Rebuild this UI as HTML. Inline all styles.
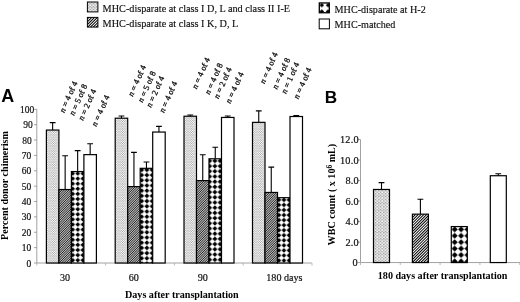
<!DOCTYPE html>
<html><head><meta charset="utf-8"><title>Figure</title>
<style>
html,body{margin:0;padding:0;background:#fff}
svg{display:block}
.t{font-family:"Liberation Serif",serif;font-size:10.1px;fill:#111;stroke:#111;stroke-width:0.2px}
.b{font-family:"Liberation Serif",serif;font-size:10.1px;font-weight:bold;fill:#000}
.tb{font-family:"Liberation Serif",serif;font-size:10.3px;letter-spacing:0.25px;fill:#111;stroke:#111;stroke-width:0.2px}
.tx{font-family:"Liberation Serif",serif;font-size:10.1px;fill:#111;stroke:#111;stroke-width:0.2px}
.l{font-family:"Liberation Serif",serif;font-size:10.22px;fill:#111;stroke:#111;stroke-width:0.15px}
.l2{font-family:"Liberation Serif",serif;font-size:10.15px;fill:#111;stroke:#111;stroke-width:0.15px}
.n{font-family:"Liberation Serif",serif;font-size:8.3px;word-spacing:0.2px;fill:#111;stroke:#111;stroke-width:0.3px}
.h{font-family:"Liberation Sans",sans-serif;font-size:17.2px;font-weight:bold;fill:#000}
</style></head><body>
<svg width="520" height="302" viewBox="0 0 520 302">
<defs>
<pattern id="p1" width="23.00" height="22.00" x="0" y="0" patternUnits="userSpaceOnUse"><rect width="23.00" height="22.00" fill="#f8f8f8"/><path d="M0.07 0.05h1.0v1.0h-1.0zM1.22 1.15h1.0v1.0h-1.0zM0.07 2.25h1.0v1.0h-1.0zM1.22 3.35h1.0v1.0h-1.0zM0.07 4.45h1.0v1.0h-1.0zM1.22 5.55h1.0v1.0h-1.0zM0.07 6.65h1.0v1.0h-1.0zM1.22 7.75h1.0v1.0h-1.0zM0.07 8.85h1.0v1.0h-1.0zM1.22 9.95h1.0v1.0h-1.0zM0.07 11.05h1.0v1.0h-1.0zM1.22 12.15h1.0v1.0h-1.0zM0.07 13.25h1.0v1.0h-1.0zM1.22 14.35h1.0v1.0h-1.0zM0.07 15.45h1.0v1.0h-1.0zM1.22 16.55h1.0v1.0h-1.0zM0.07 17.65h1.0v1.0h-1.0zM1.22 18.75h1.0v1.0h-1.0zM0.07 19.85h1.0v1.0h-1.0zM1.22 20.95h1.0v1.0h-1.0zM2.38 0.05h1.0v1.0h-1.0zM3.52 1.15h1.0v1.0h-1.0zM2.38 2.25h1.0v1.0h-1.0zM3.52 3.35h1.0v1.0h-1.0zM2.38 4.45h1.0v1.0h-1.0zM3.52 5.55h1.0v1.0h-1.0zM2.38 6.65h1.0v1.0h-1.0zM3.52 7.75h1.0v1.0h-1.0zM2.38 8.85h1.0v1.0h-1.0zM3.52 9.95h1.0v1.0h-1.0zM2.38 11.05h1.0v1.0h-1.0zM3.52 12.15h1.0v1.0h-1.0zM2.38 13.25h1.0v1.0h-1.0zM3.52 14.35h1.0v1.0h-1.0zM2.38 15.45h1.0v1.0h-1.0zM3.52 16.55h1.0v1.0h-1.0zM2.38 17.65h1.0v1.0h-1.0zM3.52 18.75h1.0v1.0h-1.0zM2.38 19.85h1.0v1.0h-1.0zM3.52 20.95h1.0v1.0h-1.0zM4.67 0.05h1.0v1.0h-1.0zM5.83 1.15h1.0v1.0h-1.0zM4.67 2.25h1.0v1.0h-1.0zM5.83 3.35h1.0v1.0h-1.0zM4.67 4.45h1.0v1.0h-1.0zM5.83 5.55h1.0v1.0h-1.0zM4.67 6.65h1.0v1.0h-1.0zM5.83 7.75h1.0v1.0h-1.0zM4.67 8.85h1.0v1.0h-1.0zM5.83 9.95h1.0v1.0h-1.0zM4.67 11.05h1.0v1.0h-1.0zM5.83 12.15h1.0v1.0h-1.0zM4.67 13.25h1.0v1.0h-1.0zM5.83 14.35h1.0v1.0h-1.0zM4.67 15.45h1.0v1.0h-1.0zM5.83 16.55h1.0v1.0h-1.0zM4.67 17.65h1.0v1.0h-1.0zM5.83 18.75h1.0v1.0h-1.0zM4.67 19.85h1.0v1.0h-1.0zM5.83 20.95h1.0v1.0h-1.0zM6.97 0.05h1.0v1.0h-1.0zM8.12 1.15h1.0v1.0h-1.0zM6.97 2.25h1.0v1.0h-1.0zM8.12 3.35h1.0v1.0h-1.0zM6.97 4.45h1.0v1.0h-1.0zM8.12 5.55h1.0v1.0h-1.0zM6.97 6.65h1.0v1.0h-1.0zM8.12 7.75h1.0v1.0h-1.0zM6.97 8.85h1.0v1.0h-1.0zM8.12 9.95h1.0v1.0h-1.0zM6.97 11.05h1.0v1.0h-1.0zM8.12 12.15h1.0v1.0h-1.0zM6.97 13.25h1.0v1.0h-1.0zM8.12 14.35h1.0v1.0h-1.0zM6.97 15.45h1.0v1.0h-1.0zM8.12 16.55h1.0v1.0h-1.0zM6.97 17.65h1.0v1.0h-1.0zM8.12 18.75h1.0v1.0h-1.0zM6.97 19.85h1.0v1.0h-1.0zM8.12 20.95h1.0v1.0h-1.0zM9.27 0.05h1.0v1.0h-1.0zM10.42 1.15h1.0v1.0h-1.0zM9.27 2.25h1.0v1.0h-1.0zM10.42 3.35h1.0v1.0h-1.0zM9.27 4.45h1.0v1.0h-1.0zM10.42 5.55h1.0v1.0h-1.0zM9.27 6.65h1.0v1.0h-1.0zM10.42 7.75h1.0v1.0h-1.0zM9.27 8.85h1.0v1.0h-1.0zM10.42 9.95h1.0v1.0h-1.0zM9.27 11.05h1.0v1.0h-1.0zM10.42 12.15h1.0v1.0h-1.0zM9.27 13.25h1.0v1.0h-1.0zM10.42 14.35h1.0v1.0h-1.0zM9.27 15.45h1.0v1.0h-1.0zM10.42 16.55h1.0v1.0h-1.0zM9.27 17.65h1.0v1.0h-1.0zM10.42 18.75h1.0v1.0h-1.0zM9.27 19.85h1.0v1.0h-1.0zM10.42 20.95h1.0v1.0h-1.0zM11.57 0.05h1.0v1.0h-1.0zM12.72 1.15h1.0v1.0h-1.0zM11.57 2.25h1.0v1.0h-1.0zM12.72 3.35h1.0v1.0h-1.0zM11.57 4.45h1.0v1.0h-1.0zM12.72 5.55h1.0v1.0h-1.0zM11.57 6.65h1.0v1.0h-1.0zM12.72 7.75h1.0v1.0h-1.0zM11.57 8.85h1.0v1.0h-1.0zM12.72 9.95h1.0v1.0h-1.0zM11.57 11.05h1.0v1.0h-1.0zM12.72 12.15h1.0v1.0h-1.0zM11.57 13.25h1.0v1.0h-1.0zM12.72 14.35h1.0v1.0h-1.0zM11.57 15.45h1.0v1.0h-1.0zM12.72 16.55h1.0v1.0h-1.0zM11.57 17.65h1.0v1.0h-1.0zM12.72 18.75h1.0v1.0h-1.0zM11.57 19.85h1.0v1.0h-1.0zM12.72 20.95h1.0v1.0h-1.0zM13.87 0.05h1.0v1.0h-1.0zM15.02 1.15h1.0v1.0h-1.0zM13.87 2.25h1.0v1.0h-1.0zM15.02 3.35h1.0v1.0h-1.0zM13.87 4.45h1.0v1.0h-1.0zM15.02 5.55h1.0v1.0h-1.0zM13.87 6.65h1.0v1.0h-1.0zM15.02 7.75h1.0v1.0h-1.0zM13.87 8.85h1.0v1.0h-1.0zM15.02 9.95h1.0v1.0h-1.0zM13.87 11.05h1.0v1.0h-1.0zM15.02 12.15h1.0v1.0h-1.0zM13.87 13.25h1.0v1.0h-1.0zM15.02 14.35h1.0v1.0h-1.0zM13.87 15.45h1.0v1.0h-1.0zM15.02 16.55h1.0v1.0h-1.0zM13.87 17.65h1.0v1.0h-1.0zM15.02 18.75h1.0v1.0h-1.0zM13.87 19.85h1.0v1.0h-1.0zM15.02 20.95h1.0v1.0h-1.0zM16.17 0.05h1.0v1.0h-1.0zM17.32 1.15h1.0v1.0h-1.0zM16.17 2.25h1.0v1.0h-1.0zM17.32 3.35h1.0v1.0h-1.0zM16.17 4.45h1.0v1.0h-1.0zM17.32 5.55h1.0v1.0h-1.0zM16.17 6.65h1.0v1.0h-1.0zM17.32 7.75h1.0v1.0h-1.0zM16.17 8.85h1.0v1.0h-1.0zM17.32 9.95h1.0v1.0h-1.0zM16.17 11.05h1.0v1.0h-1.0zM17.32 12.15h1.0v1.0h-1.0zM16.17 13.25h1.0v1.0h-1.0zM17.32 14.35h1.0v1.0h-1.0zM16.17 15.45h1.0v1.0h-1.0zM17.32 16.55h1.0v1.0h-1.0zM16.17 17.65h1.0v1.0h-1.0zM17.32 18.75h1.0v1.0h-1.0zM16.17 19.85h1.0v1.0h-1.0zM17.32 20.95h1.0v1.0h-1.0zM18.47 0.05h1.0v1.0h-1.0zM19.62 1.15h1.0v1.0h-1.0zM18.47 2.25h1.0v1.0h-1.0zM19.62 3.35h1.0v1.0h-1.0zM18.47 4.45h1.0v1.0h-1.0zM19.62 5.55h1.0v1.0h-1.0zM18.47 6.65h1.0v1.0h-1.0zM19.62 7.75h1.0v1.0h-1.0zM18.47 8.85h1.0v1.0h-1.0zM19.62 9.95h1.0v1.0h-1.0zM18.47 11.05h1.0v1.0h-1.0zM19.62 12.15h1.0v1.0h-1.0zM18.47 13.25h1.0v1.0h-1.0zM19.62 14.35h1.0v1.0h-1.0zM18.47 15.45h1.0v1.0h-1.0zM19.62 16.55h1.0v1.0h-1.0zM18.47 17.65h1.0v1.0h-1.0zM19.62 18.75h1.0v1.0h-1.0zM18.47 19.85h1.0v1.0h-1.0zM19.62 20.95h1.0v1.0h-1.0zM20.77 0.05h1.0v1.0h-1.0zM21.92 1.15h1.0v1.0h-1.0zM20.77 2.25h1.0v1.0h-1.0zM21.92 3.35h1.0v1.0h-1.0zM20.77 4.45h1.0v1.0h-1.0zM21.92 5.55h1.0v1.0h-1.0zM20.77 6.65h1.0v1.0h-1.0zM21.92 7.75h1.0v1.0h-1.0zM20.77 8.85h1.0v1.0h-1.0zM21.92 9.95h1.0v1.0h-1.0zM20.77 11.05h1.0v1.0h-1.0zM21.92 12.15h1.0v1.0h-1.0zM20.77 13.25h1.0v1.0h-1.0zM21.92 14.35h1.0v1.0h-1.0zM20.77 15.45h1.0v1.0h-1.0zM21.92 16.55h1.0v1.0h-1.0zM20.77 17.65h1.0v1.0h-1.0zM21.92 18.75h1.0v1.0h-1.0zM20.77 19.85h1.0v1.0h-1.0zM21.92 20.95h1.0v1.0h-1.0z" fill="#a4a4a4"/></pattern>
<pattern id="p1b" width="33.00" height="29.00" x="0.3" y="0.2" patternUnits="userSpaceOnUse"><rect width="33.00" height="29.00" fill="#ffffff"/><path d="M0.20 0.10h1.25v1.25h-1.25zM1.85 1.55h1.25v1.25h-1.25zM0.20 3.00h1.25v1.25h-1.25zM1.85 4.45h1.25v1.25h-1.25zM0.20 5.90h1.25v1.25h-1.25zM1.85 7.35h1.25v1.25h-1.25zM0.20 8.80h1.25v1.25h-1.25zM1.85 10.25h1.25v1.25h-1.25zM0.20 11.70h1.25v1.25h-1.25zM1.85 13.15h1.25v1.25h-1.25zM0.20 14.60h1.25v1.25h-1.25zM1.85 16.05h1.25v1.25h-1.25zM0.20 17.50h1.25v1.25h-1.25zM1.85 18.95h1.25v1.25h-1.25zM0.20 20.40h1.25v1.25h-1.25zM1.85 21.85h1.25v1.25h-1.25zM0.20 23.30h1.25v1.25h-1.25zM1.85 24.75h1.25v1.25h-1.25zM0.20 26.20h1.25v1.25h-1.25zM1.85 27.65h1.25v1.25h-1.25zM3.50 0.10h1.25v1.25h-1.25zM5.15 1.55h1.25v1.25h-1.25zM3.50 3.00h1.25v1.25h-1.25zM5.15 4.45h1.25v1.25h-1.25zM3.50 5.90h1.25v1.25h-1.25zM5.15 7.35h1.25v1.25h-1.25zM3.50 8.80h1.25v1.25h-1.25zM5.15 10.25h1.25v1.25h-1.25zM3.50 11.70h1.25v1.25h-1.25zM5.15 13.15h1.25v1.25h-1.25zM3.50 14.60h1.25v1.25h-1.25zM5.15 16.05h1.25v1.25h-1.25zM3.50 17.50h1.25v1.25h-1.25zM5.15 18.95h1.25v1.25h-1.25zM3.50 20.40h1.25v1.25h-1.25zM5.15 21.85h1.25v1.25h-1.25zM3.50 23.30h1.25v1.25h-1.25zM5.15 24.75h1.25v1.25h-1.25zM3.50 26.20h1.25v1.25h-1.25zM5.15 27.65h1.25v1.25h-1.25zM6.80 0.10h1.25v1.25h-1.25zM8.45 1.55h1.25v1.25h-1.25zM6.80 3.00h1.25v1.25h-1.25zM8.45 4.45h1.25v1.25h-1.25zM6.80 5.90h1.25v1.25h-1.25zM8.45 7.35h1.25v1.25h-1.25zM6.80 8.80h1.25v1.25h-1.25zM8.45 10.25h1.25v1.25h-1.25zM6.80 11.70h1.25v1.25h-1.25zM8.45 13.15h1.25v1.25h-1.25zM6.80 14.60h1.25v1.25h-1.25zM8.45 16.05h1.25v1.25h-1.25zM6.80 17.50h1.25v1.25h-1.25zM8.45 18.95h1.25v1.25h-1.25zM6.80 20.40h1.25v1.25h-1.25zM8.45 21.85h1.25v1.25h-1.25zM6.80 23.30h1.25v1.25h-1.25zM8.45 24.75h1.25v1.25h-1.25zM6.80 26.20h1.25v1.25h-1.25zM8.45 27.65h1.25v1.25h-1.25zM10.10 0.10h1.25v1.25h-1.25zM11.75 1.55h1.25v1.25h-1.25zM10.10 3.00h1.25v1.25h-1.25zM11.75 4.45h1.25v1.25h-1.25zM10.10 5.90h1.25v1.25h-1.25zM11.75 7.35h1.25v1.25h-1.25zM10.10 8.80h1.25v1.25h-1.25zM11.75 10.25h1.25v1.25h-1.25zM10.10 11.70h1.25v1.25h-1.25zM11.75 13.15h1.25v1.25h-1.25zM10.10 14.60h1.25v1.25h-1.25zM11.75 16.05h1.25v1.25h-1.25zM10.10 17.50h1.25v1.25h-1.25zM11.75 18.95h1.25v1.25h-1.25zM10.10 20.40h1.25v1.25h-1.25zM11.75 21.85h1.25v1.25h-1.25zM10.10 23.30h1.25v1.25h-1.25zM11.75 24.75h1.25v1.25h-1.25zM10.10 26.20h1.25v1.25h-1.25zM11.75 27.65h1.25v1.25h-1.25zM13.40 0.10h1.25v1.25h-1.25zM15.05 1.55h1.25v1.25h-1.25zM13.40 3.00h1.25v1.25h-1.25zM15.05 4.45h1.25v1.25h-1.25zM13.40 5.90h1.25v1.25h-1.25zM15.05 7.35h1.25v1.25h-1.25zM13.40 8.80h1.25v1.25h-1.25zM15.05 10.25h1.25v1.25h-1.25zM13.40 11.70h1.25v1.25h-1.25zM15.05 13.15h1.25v1.25h-1.25zM13.40 14.60h1.25v1.25h-1.25zM15.05 16.05h1.25v1.25h-1.25zM13.40 17.50h1.25v1.25h-1.25zM15.05 18.95h1.25v1.25h-1.25zM13.40 20.40h1.25v1.25h-1.25zM15.05 21.85h1.25v1.25h-1.25zM13.40 23.30h1.25v1.25h-1.25zM15.05 24.75h1.25v1.25h-1.25zM13.40 26.20h1.25v1.25h-1.25zM15.05 27.65h1.25v1.25h-1.25zM16.70 0.10h1.25v1.25h-1.25zM18.35 1.55h1.25v1.25h-1.25zM16.70 3.00h1.25v1.25h-1.25zM18.35 4.45h1.25v1.25h-1.25zM16.70 5.90h1.25v1.25h-1.25zM18.35 7.35h1.25v1.25h-1.25zM16.70 8.80h1.25v1.25h-1.25zM18.35 10.25h1.25v1.25h-1.25zM16.70 11.70h1.25v1.25h-1.25zM18.35 13.15h1.25v1.25h-1.25zM16.70 14.60h1.25v1.25h-1.25zM18.35 16.05h1.25v1.25h-1.25zM16.70 17.50h1.25v1.25h-1.25zM18.35 18.95h1.25v1.25h-1.25zM16.70 20.40h1.25v1.25h-1.25zM18.35 21.85h1.25v1.25h-1.25zM16.70 23.30h1.25v1.25h-1.25zM18.35 24.75h1.25v1.25h-1.25zM16.70 26.20h1.25v1.25h-1.25zM18.35 27.65h1.25v1.25h-1.25zM20.00 0.10h1.25v1.25h-1.25zM21.65 1.55h1.25v1.25h-1.25zM20.00 3.00h1.25v1.25h-1.25zM21.65 4.45h1.25v1.25h-1.25zM20.00 5.90h1.25v1.25h-1.25zM21.65 7.35h1.25v1.25h-1.25zM20.00 8.80h1.25v1.25h-1.25zM21.65 10.25h1.25v1.25h-1.25zM20.00 11.70h1.25v1.25h-1.25zM21.65 13.15h1.25v1.25h-1.25zM20.00 14.60h1.25v1.25h-1.25zM21.65 16.05h1.25v1.25h-1.25zM20.00 17.50h1.25v1.25h-1.25zM21.65 18.95h1.25v1.25h-1.25zM20.00 20.40h1.25v1.25h-1.25zM21.65 21.85h1.25v1.25h-1.25zM20.00 23.30h1.25v1.25h-1.25zM21.65 24.75h1.25v1.25h-1.25zM20.00 26.20h1.25v1.25h-1.25zM21.65 27.65h1.25v1.25h-1.25zM23.30 0.10h1.25v1.25h-1.25zM24.95 1.55h1.25v1.25h-1.25zM23.30 3.00h1.25v1.25h-1.25zM24.95 4.45h1.25v1.25h-1.25zM23.30 5.90h1.25v1.25h-1.25zM24.95 7.35h1.25v1.25h-1.25zM23.30 8.80h1.25v1.25h-1.25zM24.95 10.25h1.25v1.25h-1.25zM23.30 11.70h1.25v1.25h-1.25zM24.95 13.15h1.25v1.25h-1.25zM23.30 14.60h1.25v1.25h-1.25zM24.95 16.05h1.25v1.25h-1.25zM23.30 17.50h1.25v1.25h-1.25zM24.95 18.95h1.25v1.25h-1.25zM23.30 20.40h1.25v1.25h-1.25zM24.95 21.85h1.25v1.25h-1.25zM23.30 23.30h1.25v1.25h-1.25zM24.95 24.75h1.25v1.25h-1.25zM23.30 26.20h1.25v1.25h-1.25zM24.95 27.65h1.25v1.25h-1.25zM26.60 0.10h1.25v1.25h-1.25zM28.25 1.55h1.25v1.25h-1.25zM26.60 3.00h1.25v1.25h-1.25zM28.25 4.45h1.25v1.25h-1.25zM26.60 5.90h1.25v1.25h-1.25zM28.25 7.35h1.25v1.25h-1.25zM26.60 8.80h1.25v1.25h-1.25zM28.25 10.25h1.25v1.25h-1.25zM26.60 11.70h1.25v1.25h-1.25zM28.25 13.15h1.25v1.25h-1.25zM26.60 14.60h1.25v1.25h-1.25zM28.25 16.05h1.25v1.25h-1.25zM26.60 17.50h1.25v1.25h-1.25zM28.25 18.95h1.25v1.25h-1.25zM26.60 20.40h1.25v1.25h-1.25zM28.25 21.85h1.25v1.25h-1.25zM26.60 23.30h1.25v1.25h-1.25zM28.25 24.75h1.25v1.25h-1.25zM26.60 26.20h1.25v1.25h-1.25zM28.25 27.65h1.25v1.25h-1.25zM29.90 0.10h1.25v1.25h-1.25zM31.55 1.55h1.25v1.25h-1.25zM29.90 3.00h1.25v1.25h-1.25zM31.55 4.45h1.25v1.25h-1.25zM29.90 5.90h1.25v1.25h-1.25zM31.55 7.35h1.25v1.25h-1.25zM29.90 8.80h1.25v1.25h-1.25zM31.55 10.25h1.25v1.25h-1.25zM29.90 11.70h1.25v1.25h-1.25zM31.55 13.15h1.25v1.25h-1.25zM29.90 14.60h1.25v1.25h-1.25zM31.55 16.05h1.25v1.25h-1.25zM29.90 17.50h1.25v1.25h-1.25zM31.55 18.95h1.25v1.25h-1.25zM29.90 20.40h1.25v1.25h-1.25zM31.55 21.85h1.25v1.25h-1.25zM29.90 23.30h1.25v1.25h-1.25zM31.55 24.75h1.25v1.25h-1.25zM29.90 26.20h1.25v1.25h-1.25zM31.55 27.65h1.25v1.25h-1.25z" fill="#707070"/></pattern>
<pattern id="p2" width="1.75" height="1.75" patternUnits="userSpaceOnUse"><rect width="1.75" height="1.75" fill="#c0c0c0"/><path d="M-0.4375 0.4375L0.4375 -0.4375M0 1.75L1.75 0M1.3125 2.1875L2.1875 1.3125" stroke="#000" stroke-width="0.66"/></pattern>
<pattern id="p2l" width="2.2" height="2.2" patternUnits="userSpaceOnUse"><rect width="2.2" height="2.2" fill="#d0d0d0"/><path d="M-0.55 0.55L0.55 -0.55M0 2.2L2.2 0M1.65 2.75L2.75 1.65" stroke="#000" stroke-width="0.8"/></pattern>
<pattern id="p3g0" width="5.1" height="5.1" x="70.15" y="181.15" patternUnits="userSpaceOnUse"><rect width="5.1" height="5.1" fill="#fff"/><path d="M2.55 0.15L4.95 2.55L2.55 4.95L0.15 2.55Z" fill="#000"/></pattern>
<pattern id="p3g1" width="5.2" height="5.2" x="139.10" y="167.30" patternUnits="userSpaceOnUse"><rect width="5.2" height="5.2" fill="#fff"/><path d="M2.6 0.16L5.04 2.6L2.6 5.04L0.16 2.6Z" fill="#000"/></pattern>
<pattern id="p3g2" width="5.2" height="5.2" x="207.10" y="163.50" patternUnits="userSpaceOnUse"><rect width="5.2" height="5.2" fill="#fff"/><path d="M2.6 0.16L5.04 2.6L2.6 5.04L0.16 2.6Z" fill="#000"/></pattern>
<pattern id="p3g3" width="5.05" height="5.05" x="276.38" y="197.38" patternUnits="userSpaceOnUse"><rect width="5.05" height="5.05" fill="#fff"/><path d="M2.525 0.15L4.90 2.525L2.525 4.90L0.15 2.525Z" fill="#000"/></pattern>
<pattern id="p3b" width="6.4" height="6.4" x="451.50" y="226.20" patternUnits="userSpaceOnUse"><rect width="6.4" height="6.4" fill="#fff"/><path d="M3.2 0.19L6.21 3.2L3.2 6.21L0.19 3.2Z" fill="#000"/></pattern>
<pattern id="p3l" width="6.3" height="6.3" x="318.65" y="2.05" patternUnits="userSpaceOnUse"><rect width="6.3" height="6.3" fill="#fff"/><path d="M3.15 0.85L5.45 3.15L3.15 5.45L0.85 3.15Z" fill="#000"/></pattern>
</defs>
<rect width="520" height="302" fill="#fff"/>
<path d="M36.8 109.30V263.0H311.8" stroke="#8a8a8a" stroke-width="0.8" fill="none"/>
<path d="M34.0 263.00H36.8" stroke="#8a8a8a" stroke-width="0.8"/>
<path d="M34.0 247.63H36.8" stroke="#8a8a8a" stroke-width="0.8"/>
<path d="M34.0 232.26H36.8" stroke="#8a8a8a" stroke-width="0.8"/>
<path d="M34.0 216.89H36.8" stroke="#8a8a8a" stroke-width="0.8"/>
<path d="M34.0 201.52H36.8" stroke="#8a8a8a" stroke-width="0.8"/>
<path d="M34.0 186.15H36.8" stroke="#8a8a8a" stroke-width="0.8"/>
<path d="M34.0 170.78H36.8" stroke="#8a8a8a" stroke-width="0.8"/>
<path d="M34.0 155.41H36.8" stroke="#8a8a8a" stroke-width="0.8"/>
<path d="M34.0 140.04H36.8" stroke="#8a8a8a" stroke-width="0.8"/>
<path d="M34.0 124.67H36.8" stroke="#8a8a8a" stroke-width="0.8"/>
<path d="M34.0 109.30H36.8" stroke="#8a8a8a" stroke-width="0.8"/>
<path d="M36.80 263.0v2.5" stroke="#aaa" stroke-width="0.8"/>
<path d="M105.60 263.0v2.5" stroke="#aaa" stroke-width="0.8"/>
<path d="M174.40 263.0v2.5" stroke="#aaa" stroke-width="0.8"/>
<path d="M243.20 263.0v2.5" stroke="#aaa" stroke-width="0.8"/>
<path d="M312.00 263.0v2.5" stroke="#aaa" stroke-width="0.8"/>
<path d="M360.5 139.55V262.55H520" stroke="#8a8a8a" stroke-width="0.8" fill="none"/>
<path d="M357.7 262.55H360.5" stroke="#8a8a8a" stroke-width="0.8"/>
<path d="M357.7 242.05H360.5" stroke="#8a8a8a" stroke-width="0.8"/>
<path d="M357.7 221.55H360.5" stroke="#8a8a8a" stroke-width="0.8"/>
<path d="M357.7 201.05H360.5" stroke="#8a8a8a" stroke-width="0.8"/>
<path d="M357.7 180.55H360.5" stroke="#8a8a8a" stroke-width="0.8"/>
<path d="M357.7 160.05H360.5" stroke="#8a8a8a" stroke-width="0.8"/>
<path d="M357.7 139.55H360.5" stroke="#8a8a8a" stroke-width="0.8"/>
<path d="M360.50 262.55v2.5" stroke="#aaa" stroke-width="0.8"/>
<path d="M400.30 262.55v2.5" stroke="#aaa" stroke-width="0.8"/>
<path d="M440.10 262.55v2.5" stroke="#aaa" stroke-width="0.8"/>
<path d="M479.90 262.55v2.5" stroke="#aaa" stroke-width="0.8"/>
<path d="M519.70 262.55v2.5" stroke="#aaa" stroke-width="0.8"/>
<path d="M52.65 130.05V122.67M49.75 122.67H55.55" stroke="#000" stroke-width="1.1" fill="none"/>
<rect x="46.40" y="130.05" width="12.50" height="132.95" fill="url(#p1)" stroke="#000" stroke-width="1.2"/>
<path d="M65.15 189.53V155.79M62.25 155.79H68.05" stroke="#000" stroke-width="1.1" fill="none"/>
<clipPath id="c1"><rect x="58.90" y="189.53" width="12.50" height="73.47"/></clipPath><rect x="58.90" y="189.53" width="12.50" height="73.47" fill="#e4e4e4"/><path clip-path="url(#c1)" d="M-16.25 263.00L57.22 189.53M-14.50 263.00L58.97 189.53M-12.75 263.00L60.72 189.53M-11.00 263.00L62.47 189.53M-9.25 263.00L64.22 189.53M-7.50 263.00L65.97 189.53M-5.75 263.00L67.72 189.53M-4.00 263.00L69.47 189.53M-2.25 263.00L71.22 189.53M-0.50 263.00L72.97 189.53M1.25 263.00L74.72 189.53M3.00 263.00L76.47 189.53M4.75 263.00L78.22 189.53M6.50 263.00L79.97 189.53M8.25 263.00L81.72 189.53M10.00 263.00L83.47 189.53M11.75 263.00L85.22 189.53M13.50 263.00L86.97 189.53M15.25 263.00L88.72 189.53M17.00 263.00L90.47 189.53M18.75 263.00L92.22 189.53M20.50 263.00L93.97 189.53M22.25 263.00L95.72 189.53M24.00 263.00L97.47 189.53M25.75 263.00L99.22 189.53M27.50 263.00L100.97 189.53M29.25 263.00L102.72 189.53M31.00 263.00L104.47 189.53M32.75 263.00L106.22 189.53M34.50 263.00L107.97 189.53M36.25 263.00L109.72 189.53M38.00 263.00L111.47 189.53M39.75 263.00L113.22 189.53M41.50 263.00L114.97 189.53M43.25 263.00L116.72 189.53M45.00 263.00L118.47 189.53M46.75 263.00L120.22 189.53M48.50 263.00L121.97 189.53M50.25 263.00L123.72 189.53M52.00 263.00L125.47 189.53M53.75 263.00L127.22 189.53M55.50 263.00L128.97 189.53M57.25 263.00L130.72 189.53M59.00 263.00L132.47 189.53M60.75 263.00L134.22 189.53M62.50 263.00L135.97 189.53M64.25 263.00L137.72 189.53M66.00 263.00L139.47 189.53M67.75 263.00L141.22 189.53M69.50 263.00L142.97 189.53M71.25 263.00L144.72 189.53M73.00 263.00L146.47 189.53" stroke="#000" stroke-width="0.82" fill="none"/><rect x="58.90" y="189.53" width="12.50" height="73.47" fill="none" stroke="#000" stroke-width="1.2"/>
<path d="M77.65 171.55V150.65M74.75 150.65H80.55" stroke="#000" stroke-width="1.1" fill="none"/>
<rect x="71.40" y="171.55" width="12.50" height="91.45" fill="url(#p3g0)" stroke="#000" stroke-width="1.2"/>
<path d="M90.15 154.64V143.73M87.25 143.73H93.05" stroke="#000" stroke-width="1.1" fill="none"/>
<rect x="83.90" y="154.64" width="12.50" height="108.36" fill="#fff" stroke="#000" stroke-width="1.2"/>
<path d="M121.45 118.21V116.06M118.55 116.06H124.35" stroke="#000" stroke-width="1.1" fill="none"/>
<rect x="115.20" y="118.21" width="12.50" height="144.79" fill="url(#p1)" stroke="#000" stroke-width="1.2"/>
<path d="M133.95 186.61V152.34M131.05 152.34H136.85" stroke="#000" stroke-width="1.1" fill="none"/>
<clipPath id="c2"><rect x="127.70" y="186.61" width="12.50" height="76.39"/></clipPath><rect x="127.70" y="186.61" width="12.50" height="76.39" fill="#e4e4e4"/><path clip-path="url(#c2)" d="M50.25 263.00L126.64 186.61M52.00 263.00L128.39 186.61M53.75 263.00L130.14 186.61M55.50 263.00L131.89 186.61M57.25 263.00L133.64 186.61M59.00 263.00L135.39 186.61M60.75 263.00L137.14 186.61M62.50 263.00L138.89 186.61M64.25 263.00L140.64 186.61M66.00 263.00L142.39 186.61M67.75 263.00L144.14 186.61M69.50 263.00L145.89 186.61M71.25 263.00L147.64 186.61M73.00 263.00L149.39 186.61M74.75 263.00L151.14 186.61M76.50 263.00L152.89 186.61M78.25 263.00L154.64 186.61M80.00 263.00L156.39 186.61M81.75 263.00L158.14 186.61M83.50 263.00L159.89 186.61M85.25 263.00L161.64 186.61M87.00 263.00L163.39 186.61M88.75 263.00L165.14 186.61M90.50 263.00L166.89 186.61M92.25 263.00L168.64 186.61M94.00 263.00L170.39 186.61M95.75 263.00L172.14 186.61M97.50 263.00L173.89 186.61M99.25 263.00L175.64 186.61M101.00 263.00L177.39 186.61M102.75 263.00L179.14 186.61M104.50 263.00L180.89 186.61M106.25 263.00L182.64 186.61M108.00 263.00L184.39 186.61M109.75 263.00L186.14 186.61M111.50 263.00L187.89 186.61M113.25 263.00L189.64 186.61M115.00 263.00L191.39 186.61M116.75 263.00L193.14 186.61M118.50 263.00L194.89 186.61M120.25 263.00L196.64 186.61M122.00 263.00L198.39 186.61M123.75 263.00L200.14 186.61M125.50 263.00L201.89 186.61M127.25 263.00L203.64 186.61M129.00 263.00L205.39 186.61M130.75 263.00L207.14 186.61M132.50 263.00L208.89 186.61M134.25 263.00L210.64 186.61M136.00 263.00L212.39 186.61M137.75 263.00L214.14 186.61M139.50 263.00L215.89 186.61M141.25 263.00L217.64 186.61" stroke="#000" stroke-width="0.82" fill="none"/><rect x="127.70" y="186.61" width="12.50" height="76.39" fill="none" stroke="#000" stroke-width="1.2"/>
<path d="M146.45 168.32V162.02M143.55 162.02H149.35" stroke="#000" stroke-width="1.1" fill="none"/>
<rect x="140.20" y="168.32" width="12.50" height="94.68" fill="url(#p3g1)" stroke="#000" stroke-width="1.2"/>
<path d="M158.95 132.05V126.36M156.05 126.36H161.85" stroke="#000" stroke-width="1.1" fill="none"/>
<rect x="152.70" y="132.05" width="12.50" height="130.95" fill="#fff" stroke="#000" stroke-width="1.2"/>
<path d="M190.25 116.22V114.99M187.35 114.99H193.15" stroke="#000" stroke-width="1.1" fill="none"/>
<rect x="184.00" y="116.22" width="12.50" height="146.78" fill="url(#p1)" stroke="#000" stroke-width="1.2"/>
<path d="M202.75 180.62V154.80M199.85 154.80H205.65" stroke="#000" stroke-width="1.1" fill="none"/>
<clipPath id="c3"><rect x="196.50" y="180.62" width="12.50" height="82.38"/></clipPath><rect x="196.50" y="180.62" width="12.50" height="82.38" fill="#e4e4e4"/><path clip-path="url(#c3)" d="M113.25 263.00L195.63 180.62M115.00 263.00L197.38 180.62M116.75 263.00L199.13 180.62M118.50 263.00L200.88 180.62M120.25 263.00L202.63 180.62M122.00 263.00L204.38 180.62M123.75 263.00L206.13 180.62M125.50 263.00L207.88 180.62M127.25 263.00L209.63 180.62M129.00 263.00L211.38 180.62M130.75 263.00L213.13 180.62M132.50 263.00L214.88 180.62M134.25 263.00L216.63 180.62M136.00 263.00L218.38 180.62M137.75 263.00L220.13 180.62M139.50 263.00L221.88 180.62M141.25 263.00L223.63 180.62M143.00 263.00L225.38 180.62M144.75 263.00L227.13 180.62M146.50 263.00L228.88 180.62M148.25 263.00L230.63 180.62M150.00 263.00L232.38 180.62M151.75 263.00L234.13 180.62M153.50 263.00L235.88 180.62M155.25 263.00L237.63 180.62M157.00 263.00L239.38 180.62M158.75 263.00L241.13 180.62M160.50 263.00L242.88 180.62M162.25 263.00L244.63 180.62M164.00 263.00L246.38 180.62M165.75 263.00L248.13 180.62M167.50 263.00L249.88 180.62M169.25 263.00L251.63 180.62M171.00 263.00L253.38 180.62M172.75 263.00L255.13 180.62M174.50 263.00L256.88 180.62M176.25 263.00L258.63 180.62M178.00 263.00L260.38 180.62M179.75 263.00L262.13 180.62M181.50 263.00L263.88 180.62M183.25 263.00L265.63 180.62M185.00 263.00L267.38 180.62M186.75 263.00L269.13 180.62M188.50 263.00L270.88 180.62M190.25 263.00L272.63 180.62M192.00 263.00L274.38 180.62M193.75 263.00L276.13 180.62M195.50 263.00L277.88 180.62M197.25 263.00L279.63 180.62M199.00 263.00L281.38 180.62M200.75 263.00L283.13 180.62M202.50 263.00L284.88 180.62M204.25 263.00L286.63 180.62M206.00 263.00L288.38 180.62M207.75 263.00L290.13 180.62M209.50 263.00L291.88 180.62" stroke="#000" stroke-width="0.82" fill="none"/><rect x="196.50" y="180.62" width="12.50" height="82.38" fill="none" stroke="#000" stroke-width="1.2"/>
<path d="M215.25 158.79V147.26M212.35 147.26H218.15" stroke="#000" stroke-width="1.1" fill="none"/>
<rect x="209.00" y="158.79" width="12.50" height="104.21" fill="url(#p3g2)" stroke="#000" stroke-width="1.2"/>
<path d="M227.75 117.45V116.06M224.85 116.06H230.65" stroke="#000" stroke-width="1.1" fill="none"/>
<rect x="221.50" y="117.45" width="12.50" height="145.55" fill="#fff" stroke="#000" stroke-width="1.2"/>
<path d="M258.75 122.36V110.84M255.85 110.84H261.65" stroke="#000" stroke-width="1.1" fill="none"/>
<rect x="252.50" y="122.36" width="12.50" height="140.64" fill="url(#p1)" stroke="#000" stroke-width="1.2"/>
<path d="M271.25 192.45V167.09M268.35 167.09H274.15" stroke="#000" stroke-width="1.1" fill="none"/>
<clipPath id="c4"><rect x="265.00" y="192.45" width="12.50" height="70.55"/></clipPath><rect x="265.00" y="192.45" width="12.50" height="70.55" fill="#e4e4e4"/><path clip-path="url(#c4)" d="M193.75 263.00L264.30 192.45M195.50 263.00L266.05 192.45M197.25 263.00L267.80 192.45M199.00 263.00L269.55 192.45M200.75 263.00L271.30 192.45M202.50 263.00L273.05 192.45M204.25 263.00L274.80 192.45M206.00 263.00L276.55 192.45M207.75 263.00L278.30 192.45M209.50 263.00L280.05 192.45M211.25 263.00L281.80 192.45M213.00 263.00L283.55 192.45M214.75 263.00L285.30 192.45M216.50 263.00L287.05 192.45M218.25 263.00L288.80 192.45M220.00 263.00L290.55 192.45M221.75 263.00L292.30 192.45M223.50 263.00L294.05 192.45M225.25 263.00L295.80 192.45M227.00 263.00L297.55 192.45M228.75 263.00L299.30 192.45M230.50 263.00L301.05 192.45M232.25 263.00L302.80 192.45M234.00 263.00L304.55 192.45M235.75 263.00L306.30 192.45M237.50 263.00L308.05 192.45M239.25 263.00L309.80 192.45M241.00 263.00L311.55 192.45M242.75 263.00L313.30 192.45M244.50 263.00L315.05 192.45M246.25 263.00L316.80 192.45M248.00 263.00L318.55 192.45M249.75 263.00L320.30 192.45M251.50 263.00L322.05 192.45M253.25 263.00L323.80 192.45M255.00 263.00L325.55 192.45M256.75 263.00L327.30 192.45M258.50 263.00L329.05 192.45M260.25 263.00L330.80 192.45M262.00 263.00L332.55 192.45M263.75 263.00L334.30 192.45M265.50 263.00L336.05 192.45M267.25 263.00L337.80 192.45M269.00 263.00L339.55 192.45M270.75 263.00L341.30 192.45M272.50 263.00L343.05 192.45M274.25 263.00L344.80 192.45M276.00 263.00L346.55 192.45M277.75 263.00L348.30 192.45" stroke="#000" stroke-width="0.82" fill="none"/><rect x="265.00" y="192.45" width="12.50" height="70.55" fill="none" stroke="#000" stroke-width="1.2"/>
<rect x="277.50" y="197.68" width="12.50" height="65.32" fill="url(#p3g3)" stroke="#000" stroke-width="1.2"/>
<path d="M296.25 116.52V115.45M293.35 115.45H299.15" stroke="#000" stroke-width="1.1" fill="none"/>
<rect x="290.00" y="116.52" width="12.50" height="146.48" fill="#fff" stroke="#000" stroke-width="1.2"/>
<path d="M381.50 189.47V182.60M378.60 182.60H384.40" stroke="#000" stroke-width="1.1" fill="none"/>
<rect x="373.50" y="189.47" width="16.00" height="73.08" fill="url(#p1b)" stroke="#000" stroke-width="1.2"/>
<path d="M420.40 214.17V199.21M417.50 199.21H423.30" stroke="#000" stroke-width="1.1" fill="none"/>
<clipPath id="c5"><rect x="412.40" y="214.17" width="16.00" height="48.38"/></clipPath><rect x="412.40" y="214.17" width="16.00" height="48.38" fill="#ffffff"/><path clip-path="url(#c5)" d="M361.85 262.55L410.23 214.17M364.65 262.55L413.03 214.17M367.45 262.55L415.83 214.17M370.25 262.55L418.63 214.17M373.05 262.55L421.43 214.17M375.85 262.55L424.23 214.17M378.65 262.55L427.03 214.17M381.45 262.55L429.83 214.17M384.25 262.55L432.63 214.17M387.05 262.55L435.43 214.17M389.85 262.55L438.23 214.17M392.65 262.55L441.03 214.17M395.45 262.55L443.83 214.17M398.25 262.55L446.63 214.17M401.05 262.55L449.43 214.17M403.85 262.55L452.23 214.17M406.65 262.55L455.03 214.17M409.45 262.55L457.83 214.17M412.25 262.55L460.63 214.17M415.05 262.55L463.43 214.17M417.85 262.55L466.23 214.17M420.65 262.55L469.03 214.17M423.45 262.55L471.83 214.17M426.25 262.55L474.63 214.17M429.05 262.55L477.43 214.17" stroke="#000" stroke-width="1.02" fill="none"/><rect x="412.40" y="214.17" width="16.00" height="48.38" fill="none" stroke="#000" stroke-width="1.2"/>
<rect x="451.30" y="226.57" width="16.00" height="35.98" fill="url(#p3b)" stroke="#000" stroke-width="1.2"/>
<path d="M498.30 175.73V173.79M495.40 173.79H501.20" stroke="#000" stroke-width="1.1" fill="none"/>
<rect x="490.30" y="175.73" width="16.00" height="86.82" fill="#fff" stroke="#000" stroke-width="1.2"/>
<text transform="translate(31.25 266.60) scale(0.94 1)" text-anchor="end" class="t">0</text>
<text transform="translate(31.25 251.23) scale(0.94 1)" text-anchor="end" class="t">10</text>
<text transform="translate(31.25 235.86) scale(0.94 1)" text-anchor="end" class="t">20</text>
<text transform="translate(31.25 220.49) scale(0.94 1)" text-anchor="end" class="t">30</text>
<text transform="translate(31.25 205.12) scale(0.94 1)" text-anchor="end" class="t">40</text>
<text transform="translate(31.25 189.75) scale(0.94 1)" text-anchor="end" class="t">50</text>
<text transform="translate(31.25 174.38) scale(0.94 1)" text-anchor="end" class="t">60</text>
<text transform="translate(31.35 159.01) scale(0.94 1)" text-anchor="end" class="t">70</text>
<text transform="translate(31.650000000000002 143.64) scale(0.94 1)" text-anchor="end" class="t">80</text>
<text transform="translate(32.85 128.27) scale(0.94 1)" text-anchor="end" class="t">90</text>
<text transform="translate(34.35 112.90) scale(0.94 1)" text-anchor="end" class="t">100</text>
<text x="357.9" y="266.25" text-anchor="end" class="tb">0</text>
<text x="359" y="245.75" text-anchor="end" class="tb">2.0</text>
<text x="359" y="225.25" text-anchor="end" class="tb">4.0</text>
<text x="359" y="204.75" text-anchor="end" class="tb">6.0</text>
<text x="359" y="184.25" text-anchor="end" class="tb">8.0</text>
<text x="359" y="163.75" text-anchor="end" class="tb">10.0</text>
<text x="359" y="143.25" text-anchor="end" class="tb">12.0</text>
<text x="65" y="280.8" text-anchor="middle" class="tx">30</text>
<text x="133.75" y="280.8" text-anchor="middle" class="tx">60</text>
<text x="202.75" y="280.8" text-anchor="middle" class="tx">90</text>
<text x="284.4" y="280.8" text-anchor="middle" class="tx">180 days</text>
<text x="125" y="298" class="b">Days after transplantation</text>
<text x="377.8" y="279" class="b">180 days after transplantation</text>
<text transform="translate(8.3 240) rotate(-90)" class="b">Percent donor chimerism</text>
<text transform="translate(335.0 245.4) rotate(-90)" class="b">WBC count ( x 10<tspan dy="-3.5" font-size="7.5">6</tspan><tspan dy="3.5"> mL)</tspan></text>
<text x="1.3" y="101.8" class="h" style="font-size:17.9px">A</text>
<text x="324.7" y="102.6" class="h">B</text>
<rect x="87.4" y="2" width="10.5" height="9.9" fill="url(#p1b)" stroke="#000" stroke-width="1"/>
<clipPath id="c6"><rect x="87.40" y="17.40" width="10.50" height="9.70"/></clipPath><rect x="87.40" y="17.40" width="10.50" height="9.70" fill="#ffffff"/><path clip-path="url(#c6)" d="M76.50 27.10L86.20 17.40M79.30 27.10L89.00 17.40M82.10 27.10L91.80 17.40M84.90 27.10L94.60 17.40M87.70 27.10L97.40 17.40M90.50 27.10L100.20 17.40M93.30 27.10L103.00 17.40M96.10 27.10L105.80 17.40M98.90 27.10L108.60 17.40" stroke="#000" stroke-width="1.02" fill="none"/><rect x="87.40" y="17.40" width="10.50" height="9.70" fill="none" stroke="#000" stroke-width="1.0"/>
<rect x="319.3" y="2.95" width="10.0" height="9.8" fill="url(#p3l)" stroke="#000" stroke-width="1.3"/>
<rect x="319.2" y="19" width="10.2" height="9.8" fill="#fff" stroke="#000" stroke-width="1"/>
<text x="102.6" y="11.9" class="l">MHC-disparate at class I D, L and class II I-E</text>
<text x="102.6" y="26.9" class="l">MHC-disparate at class I K, D, L</text>
<text x="334.6" y="12.8" class="l2">MHC-disparate at H-2</text>
<text x="334.6" y="27.6" class="l2">MHC-matched</text>
<text transform="translate(68.4 96.9) rotate(-66)" text-anchor="middle" y="2.7" class="n"><tspan font-style="italic">n</tspan> = 4 of 4</text>
<text transform="translate(78.3 99.8) rotate(-66)" text-anchor="middle" y="2.7" class="n"><tspan font-style="italic">n</tspan> = 5 of 8</text>
<text transform="translate(87.3 104.8) rotate(-66)" text-anchor="middle" y="2.7" class="n"><tspan font-style="italic">n</tspan> = 2 of 4</text>
<text transform="translate(100.6 110.7) rotate(-66)" text-anchor="middle" y="2.7" class="n"><tspan font-style="italic">n</tspan> = 4 of 4</text>
<text transform="translate(136.9 80.8) rotate(-66)" text-anchor="middle" y="2.7" class="n"><tspan font-style="italic">n</tspan> = 4 of 4</text>
<text transform="translate(146.8 86.7) rotate(-66)" text-anchor="middle" y="2.7" class="n"><tspan font-style="italic">n</tspan> = 5 of 8</text>
<text transform="translate(155.3 91.7) rotate(-66)" text-anchor="middle" y="2.7" class="n"><tspan font-style="italic">n</tspan> = 2 of 4</text>
<text transform="translate(168.2 97.1) rotate(-66)" text-anchor="middle" y="2.7" class="n"><tspan font-style="italic">n</tspan> = 4 of 4</text>
<text transform="translate(200.9 73.2) rotate(-66)" text-anchor="middle" y="2.7" class="n"><tspan font-style="italic">n</tspan> = 4 of 4</text>
<text transform="translate(213.8 78.7) rotate(-66)" text-anchor="middle" y="2.7" class="n"><tspan font-style="italic">n</tspan> = 4 of 8</text>
<text transform="translate(222.7 82.9) rotate(-66)" text-anchor="middle" y="2.7" class="n"><tspan font-style="italic">n</tspan> = 2 of 4</text>
<text transform="translate(234.6 87.7) rotate(-66)" text-anchor="middle" y="2.7" class="n"><tspan font-style="italic">n</tspan> = 4 of 4</text>
<text transform="translate(268.8 68.0) rotate(-66)" text-anchor="middle" y="2.7" class="n"><tspan font-style="italic">n</tspan> = 4 of 4</text>
<text transform="translate(281.2 73.4) rotate(-66)" text-anchor="middle" y="2.7" class="n"><tspan font-style="italic">n</tspan> = 4 of 8</text>
<text transform="translate(290.2 77.9) rotate(-66)" text-anchor="middle" y="2.7" class="n"><tspan font-style="italic">n</tspan> = 1 of 4</text>
<text transform="translate(302.6 83.2) rotate(-66)" text-anchor="middle" y="2.7" class="n"><tspan font-style="italic">n</tspan> = 4 of 4</text>
</svg>
</body></html>
